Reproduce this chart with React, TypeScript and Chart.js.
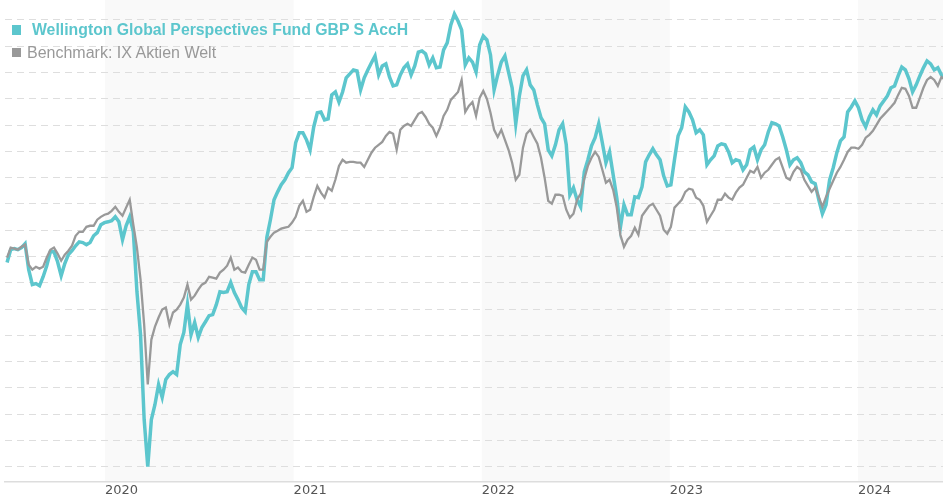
import { useEffect, useRef } from "react";
import { Chart, registerables } from "chart.js";

Chart.register(...registerables);

// ---------- data ----------
const FUND_LABEL = "Wellington Global Perspectives Fund GBP S AccH";
const BENCH_LABEL = "Benchmark: IX Aktien Welt";

const START_DATE = "2019-06-25"; // first weekly observation
const STEP_DAYS = 7;
const AXIS_START = "2019-06-21";
const AXIS_END = "2024-06-14";

const YEAR_TICKS = [2020, 2021, 2022, 2023, 2024];
const SHADED_YEARS = [2020, 2022, 2024];

// indexed value (weekly)
const fundValues = [
  77.7, 82.6, 83.0, 82.6, 83.4, 84.9, 75.0, 69.3, 69.7, 68.9,
  72.3, 76.5, 81.8, 81.8, 78.0, 72.7, 77.3, 80.7, 82.2, 84.1,
  85.6, 85.3, 84.5, 85.3, 87.9, 89.1, 92.1, 92.9, 93.2, 93.6,
  95.1, 93.2, 86.4, 91.7, 95.1, 89.4, 66.6, 50.3, 18.0, 0.1,
  18.0, 23.7, 31.3, 26.4, 33.2, 35.1, 36.2, 35.1, 46.5, 51.1,
  61.7, 50.3, 54.9, 49.2, 53.0, 55.2, 57.5, 57.9, 61.7, 66.6,
  66.3, 66.6, 70.1, 66.3, 63.6, 60.6, 59.0, 69.3, 74.2, 74.2,
  71.2, 71.2, 87.2, 94.0, 101.6, 104.6, 107.3, 109.2, 111.9, 113.8,
  123.3, 127.1, 127.1, 124.4, 120.6, 129.3, 134.7, 135.0, 132.0, 132.4,
  141.5, 142.6, 138.8, 142.6, 148.0, 149.5, 151.0, 150.6, 143.4, 148.0,
  151.0, 153.7, 156.3, 149.1, 152.5, 153.3, 148.3, 144.9, 145.3, 149.1,
  151.8, 153.3, 149.1, 152.5, 157.8, 158.2, 157.1, 152.9, 155.6, 151.8,
  152.1, 158.6, 161.3, 168.1, 172.3, 169.6, 166.2, 152.9, 155.6, 154.0,
  150.2, 160.5, 163.9, 162.4, 156.7, 143.4, 149.1, 154.0, 156.3, 150.2,
  144.2, 130.5, 141.1, 148.7, 151.0, 145.3, 143.4, 137.7, 132.8, 130.5,
  120.6, 118.3, 122.5, 128.2, 130.5, 122.5, 103.5, 106.2, 101.6, 98.9,
  112.2, 116.8, 122.1, 125.2, 130.5, 123.3, 115.7, 119.8, 111.1, 102.4,
  91.0, 99.7, 95.9, 95.9, 102.7, 102.4, 106.5, 116.0, 118.7, 121.0,
  118.7, 116.8, 110.7, 106.9, 107.3, 116.8, 125.9, 129.0, 136.9, 135.0,
  132.0, 127.1, 128.2, 126.3, 114.9, 116.8, 118.3, 122.1, 122.9, 122.5,
  119.8, 115.7, 116.8, 116.4, 113.0, 114.9, 120.6, 121.7, 116.8, 120.6,
  122.5, 127.4, 130.9, 130.5, 129.7, 125.5, 120.6, 114.9, 116.8, 117.6,
  115.7, 112.2, 111.1, 108.4, 107.7, 101.6, 96.3, 99.7, 109.2, 113.8,
  119.5, 124.0, 125.5, 135.0, 136.9, 139.2, 136.6, 132.0, 129.3, 133.1,
  135.8, 133.9, 137.3, 139.2, 141.1, 144.2, 144.9, 148.7, 152.1, 151.0,
  147.6, 142.6, 145.3, 148.7, 151.8, 154.4, 153.3, 151.0, 151.8, 149.1,
  148.3,
];

const benchValues = [
  79.6, 83.4, 83.0, 82.6, 83.7, 84.5, 76.9, 75.0, 76.1, 75.4,
  76.1, 79.6, 82.6, 83.4, 81.1, 78.4, 80.7, 82.2, 84.1, 87.9,
  89.4, 89.4, 91.3, 91.7, 91.7, 94.0, 95.1, 95.9, 96.3, 97.4,
  98.9, 97.0, 95.5, 98.6, 101.6, 92.1, 83.4, 71.2, 54.1, 31.3,
  48.4, 53.3, 56.8, 59.8, 60.6, 54.1, 58.7, 59.8, 61.7, 64.4,
  69.3, 63.6, 65.1, 67.4, 69.3, 70.1, 72.3, 72.0, 71.6, 73.9,
  75.0, 76.5, 79.6, 75.0, 75.8, 74.2, 73.9, 76.9, 79.6, 78.8,
  75.0, 75.0, 85.6, 87.5, 89.1, 89.8, 90.6, 91.0, 91.3, 92.9,
  95.1, 99.3, 101.2, 97.0, 97.8, 102.7, 106.9, 104.3, 102.4, 106.2,
  105.0, 109.2, 114.5, 116.8, 115.7, 116.0, 116.0, 115.7, 115.7, 114.1,
  116.8, 119.5, 121.4, 122.5, 123.6, 125.9, 127.4, 126.7, 120.6, 128.2,
  129.7, 130.5, 129.7, 132.0, 134.3, 135.0, 133.1, 130.5, 129.0, 125.9,
  129.0, 133.5, 135.8, 139.6, 141.1, 142.6, 147.2, 135.0, 137.3, 138.8,
  133.5, 140.4, 143.0, 140.0, 134.7, 128.2, 125.5, 128.2, 124.4, 120.6,
  115.7, 109.2, 111.1, 121.4, 126.7, 128.2, 125.5, 122.9, 117.6, 110.0,
  101.2, 100.1, 103.5, 103.5, 103.1, 97.8, 94.8, 96.3, 101.6, 103.9,
  109.6, 114.5, 117.6, 119.8, 117.9, 113.0, 108.1, 109.2, 105.4, 98.6,
  88.3, 83.7, 86.4, 87.9, 91.0, 88.3, 95.5, 97.4, 99.3, 100.1,
  97.8, 95.5, 90.2, 88.7, 91.3, 98.6, 100.1, 101.6, 104.6, 105.8,
  105.4, 102.4, 101.6, 99.3, 93.2, 95.5, 97.8, 101.6, 101.6, 103.9,
  102.4, 101.6, 104.3, 106.2, 107.3, 110.0, 112.6, 111.9, 114.1, 110.0,
  111.9, 113.0, 114.9, 116.8, 117.6, 113.8, 110.0, 109.2, 112.2, 114.1,
  113.0, 109.2, 106.9, 104.6, 106.2, 102.7, 98.9, 102.7, 105.8, 108.8,
  111.9, 114.1, 116.8, 119.8, 121.4, 121.4, 121.0, 122.5, 125.2, 126.3,
  127.8, 130.1, 132.4, 133.9, 135.4, 136.9, 138.5, 141.5, 144.2, 143.8,
  141.1, 136.6, 136.6, 140.4, 144.2, 147.2, 148.3, 147.2, 144.9, 148.3,
  147.2,
];

const Y_MIN = -5.56;
const Y_MAX = 177.6;
const Y_STEP = 10;

// ---------- styles ----------
const TEAL = "#5cc6cd";
const GRAY = "#999999";
const BAND = "#f9f9f9";
const FONT = '"Liberation Sans", Arial, Helvetica, sans-serif';

const DAY = 86400000;

const bandPlugin = {
  id: "yearBands",
  beforeDraw(chart: any) {
    const { ctx, chartArea, scales } = chart;
    const xs = scales.x;
    ctx.save();
    ctx.fillStyle = BAND;
    SHADED_YEARS.forEach((yr) => {
      const a = Math.max(xs.getPixelForValue(Date.UTC(yr, 0, 1)), chartArea.left);
      const b = Math.min(xs.getPixelForValue(Date.UTC(yr + 1, 0, 1)), chartArea.right);
      if (b > a) ctx.fillRect(a, chartArea.top, b - a, chartArea.bottom - chartArea.top);
    });
    ctx.restore();
  },
};

export default function App() {
  const ref = useRef<HTMLCanvasElement | null>(null);

  useEffect(() => {
    if (!ref.current) return;
    const t0 = Date.parse(START_DATE);
    const dates = fundValues.map((_, i) => t0 + i * STEP_DAYS * DAY);
    const chart = new Chart(ref.current, {
      type: "line",
      data: {
        datasets: [
          {
            label: FUND_LABEL,
            data: fundValues.map((v, i) => ({ x: dates[i], y: v })),
            borderColor: TEAL,
            backgroundColor: TEAL,
            borderWidth: 3.5,
            pointRadius: 0,
            tension: 0,
            order: 2,
          },
          {
            label: BENCH_LABEL,
            data: benchValues.map((v, i) => ({ x: dates[i], y: v })),
            borderColor: GRAY,
            backgroundColor: GRAY,
            borderWidth: 2.3,
            pointRadius: 0,
            tension: 0,
            order: 1,
          },
        ],
      },
      options: {
        responsive: false,
        animation: false,
        events: [],
        layout: { padding: { left: 5, right: 0, top: 0, bottom: 1 } },
        plugins: { legend: { display: false }, tooltip: { enabled: false } },
        scales: {
          x: {
            type: "linear",
            min: Date.parse(AXIS_START),
            max: Date.parse(AXIS_END),
            afterBuildTicks: (scale: any) => {
              scale.ticks = YEAR_TICKS.map((y) => ({ value: Date.UTC(y, 0, 1) }));
            },
            ticks: {
              align: "start",
              padding: 1,
              color: "#555555",
              maxRotation: 0,
              autoSkip: false,
              font: { family: '"DejaVu Sans", sans-serif', size: 13 },
              callback: (v: any) => String(new Date(Number(v)).getUTCFullYear()),
            },
            grid: { display: false, drawTicks: false },
            border: { display: true, color: "#dddddd", width: 1.5 },
          },
          y: {
            min: Y_MIN,
            max: Y_MAX,
            ticks: { display: false, stepSize: Y_STEP, includeBounds: false },
            grid: { color: "#dedede", lineWidth: 1, drawTicks: false },
            border: { display: false, dash: [7, 5] },
          },
        },
      } as any,
      plugins: [bandPlugin],
    });
    return () => chart.destroy();
  }, []);

  return (
    <div style={{ position: "absolute", left: 0, top: 0, width: 943, height: 500, background: "#fff" }}>
      <canvas ref={ref} width={943} height={500} style={{ display: "block" }} />
      <div style={{ position: "absolute", left: 12, top: 25, width: 9, height: 10, background: TEAL }} />
      <div
        style={{
          position: "absolute",
          left: 32,
          top: 22,
          font: `bold 15.8px ${FONT}`,
          lineHeight: "16px",
          color: TEAL,
          whiteSpace: "nowrap",
        }}
      >
        {FUND_LABEL}
      </div>
      <div style={{ position: "absolute", left: 12, top: 48, width: 9, height: 9, background: GRAY }} />
      <div
        style={{
          position: "absolute",
          left: 27,
          top: 45,
          font: `16px ${FONT}`,
          lineHeight: "16px",
          color: GRAY,
          whiteSpace: "nowrap",
        }}
      >
        {BENCH_LABEL}
      </div>
    </div>
  );
}
